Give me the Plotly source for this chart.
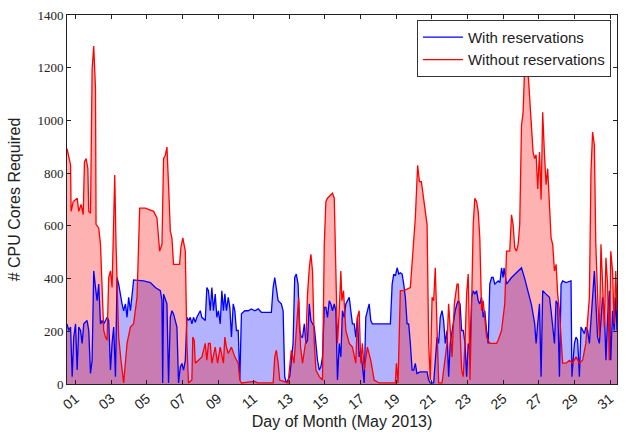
import plotly.graph_objects as go
import pandas as pd

# Day of month (fractional, 1.0 = May 1 00:00) and CPU cores
red_day = [0.52, 0.72, 0.75, 0.87, 1.09, 1.18, 1.31, 1.43, 1.50, 1.59,
           1.69, 1.74, 1.84, 1.93, 2.02, 2.12, 2.15, 2.30, 2.40, 2.49,
           2.58, 2.68, 2.77, 2.86, 2.96, 3.05, 3.14, 3.20, 3.27, 3.33,
           3.42, 3.55, 3.70, 3.89, 4.08, 4.26, 4.45, 4.60, 4.92, 5.20,
           5.38, 5.57, 5.72, 5.85, 5.94, 6.04, 6.13, 6.22, 6.32, 6.41,
           6.50, 6.84, 6.91, 7.02, 7.16, 7.25, 7.34, 7.53, 7.58, 7.66,
           7.72, 7.90, 8.09, 8.28, 8.37, 8.46, 8.56, 8.65, 8.84, 8.97,
           9.12, 9.30, 9.38, 9.47, 9.57, 9.75, 9.94, 10.13, 10.22, 10.31,
           11.04, 11.21, 12.09, 12.18, 12.27, 12.37, 12.46, 12.93, 13.02, 13.11,
           13.26, 13.39, 13.52, 13.63, 13.74, 13.93, 14.02, 14.12, 14.21, 14.30,
           14.40, 14.49, 14.68, 14.86, 14.96, 15.05, 15.14, 15.33, 15.42, 15.52,
           15.61, 15.70, 15.80, 15.89, 15.95, 16.04, 16.17, 16.36, 16.54, 16.73,
           16.82, 16.92, 17.01, 17.10, 17.20, 17.38, 17.57, 17.76, 18.04, 18.95,
           19.01, 19.10, 19.23, 19.42, 19.79, 19.89, 20.07, 20.20, 20.30, 20.41,
           20.73, 20.82, 20.91, 21.01, 21.10, 21.19, 21.29, 21.38, 21.57, 21.75,
           21.85, 21.94, 22.03, 22.13, 22.26, 22.41, 22.48, 22.58, 22.67, 22.76,
           22.86, 22.95, 23.04, 23.08, 23.14, 23.23, 23.32, 23.41, 23.51, 23.60,
           23.69, 23.79, 23.88, 24.07, 24.25, 24.63, 24.72, 24.91, 25.00, 25.09,
           25.19, 25.37, 25.47, 25.56, 25.65, 25.75, 25.84, 25.93, 26.03, 26.12,
           26.21, 26.31, 26.40, 26.49, 26.59, 26.68, 26.77, 26.85, 26.94, 27.04,
           27.13, 27.22, 27.32, 27.41, 27.50, 27.60, 27.69, 27.78, 27.88, 27.97,
           28.06, 28.16, 28.25, 28.34, 28.53, 28.72, 28.90, 29.09, 29.28, 29.46,
           29.64, 29.84, 29.93, 30.02, 30.12, 30.20, 30.30, 30.40, 30.49, 30.58,
           30.68, 30.77, 30.86, 30.96, 31.04, 31.14, 31.23, 31.32, 31.39]
red_val = [893, 832, 655, 692, 705, 655, 681, 643, 843, 855,
           818, 655, 648, 1194, 1282, 1119, 606, 592, 530, 342,
           203, 178, 166, 404, 429, 366, 681, 793, 530, 380,
           178, 90, 4, 154, 216, 229, 329, 667, 667, 660,
           655, 630, 504, 530, 855, 868, 899, 755, 580, 554,
           454, 454, 517, 554, 504, 153, 4, 15, 178, 166,
           79, 90, 103, 154, 90, 154, 154, 79, 140, 79,
           140, 79, 178, 140, 116, 140, 103, 79, 15, 4,
           10, 4, 4, 103, 128, 79, 15, 4, 79, 128,
           79, 216, 329, 140, 79, 166, 341, 441, 492, 429,
           154, 53, 28, 15, 530, 692, 705, 718, 724, 705,
           429, 154, 278, 429, 316, 354, 203, 154, 140, 79,
           253, 278, 79, 154, 53, 140, 90, 15, 4, 4,
           79, 4, 354, 354, 366, 454, 630, 830, 768, 768,
           605, 154, 15, 329, 316, 441, 154, 4, 4, 90,
           154, 304, 203, 103, 304, 379, 379, 216, 53, 28,
           154, 342, 417, 278, 15, 304, 606, 705, 692, 655,
           554, 278, 316, 178, 154, 154, 166, 203, 253, 304,
           504, 504, 642, 605, 517, 504, 529, 605, 981, 1031,
           1207, 1215, 1182, 1081, 1006, 880, 855, 870, 740, 880,
           700, 1031, 869, 756, 817, 655, 554, 530, 429, 454,
           342, 278, 154, 79, 79, 90, 79, 103, 79, 90,
           154, 329, 805, 956, 907, 530, 342, 178, 530, 342,
           216, 479, 379, 90, 504, 429, 228, 429, 278]

blue_day = [0.52, 0.62, 0.72, 0.81, 0.90, 1.00, 1.09, 1.18, 1.28, 1.37,
            1.46, 1.65, 1.74, 1.84, 1.93, 2.02, 2.12, 2.21, 2.30, 2.40,
            2.49, 2.58, 2.68, 2.77, 2.86, 2.96, 3.05, 3.14, 3.24, 3.33,
            3.42, 3.52, 3.61, 3.70, 3.80, 3.89, 3.98, 4.08, 4.17, 4.26,
            4.82, 5.20, 5.48, 5.76, 5.85, 5.89, 5.94, 6.04, 6.13, 6.22,
            6.32, 6.41, 6.50, 6.69, 6.78, 6.88, 6.97, 7.06, 7.16, 7.25,
            7.34, 7.44, 7.53, 7.62, 7.72, 7.81, 8.00, 8.09, 8.28, 8.37,
            8.46, 8.56, 8.65, 8.74, 8.84, 8.93, 9.02, 9.12, 9.21, 9.30,
            9.38, 9.47, 9.57, 9.66, 9.75, 9.85, 9.94, 10.03, 10.13, 10.22,
            10.31, 10.50, 10.69, 10.87, 11.06, 11.25, 11.43, 11.99, 12.09, 12.18,
            12.27, 12.37, 12.55, 12.65, 12.74, 12.83, 13.02, 13.21, 13.30, 13.39,
            13.49, 13.58, 13.67, 13.74, 13.84, 13.93, 14.02, 14.12, 14.21, 14.30,
            14.40, 14.49, 14.58, 14.68, 14.77, 14.86, 14.96, 15.05, 15.14, 15.24,
            15.33, 15.42, 15.52, 15.61, 15.70, 15.80, 15.89, 15.98, 16.08, 16.17,
            16.26, 16.36, 16.45, 16.54, 16.64, 16.73, 16.82, 16.92, 17.01, 17.10,
            17.20, 17.29, 17.38, 17.48, 17.57, 17.66, 18.67, 18.77, 18.86, 18.95,
            19.05, 19.14, 19.23, 19.33, 19.42, 19.51, 19.61, 19.70, 19.79, 19.89,
            19.98, 20.07, 20.16, 20.35, 20.73, 20.82, 20.91, 21.10, 21.29, 21.38,
            21.47, 21.57, 21.66, 21.75, 21.85, 21.94, 22.03, 22.13, 22.22, 22.31,
            22.41, 22.48, 22.58, 22.67, 22.76, 22.86, 22.95, 23.04, 23.14, 23.23,
            23.32, 23.41, 23.51, 23.60, 23.69, 23.79, 23.88, 23.97, 24.07, 24.16,
            24.25, 24.35, 24.44, 24.53, 24.72, 24.82, 24.91, 25.00, 25.05, 25.19,
            25.47, 25.75, 26.03, 26.21, 26.40, 26.59, 26.77, 26.85, 26.94, 27.04,
            27.13, 27.22, 27.41, 27.60, 27.69, 27.78, 27.88, 27.97, 28.06, 28.16,
            28.25, 28.34, 28.53, 28.81, 28.86, 29.00, 29.09, 29.18, 29.28, 29.37,
            29.46, 29.56, 29.64, 29.74, 29.84, 29.93, 30.02, 30.12, 30.20, 30.30,
            30.40, 30.49, 30.58, 30.68, 30.77, 30.86, 30.96, 31.04, 31.14, 31.23,
            31.32, 31.39]
blue_val = [228, 203, 216, 28, 178, 228, 53, 216, 203, 154,
            228, 241, 203, 40, 90, 429, 366, 316, 379, 228,
            241, 228, 241, 253, 241, 53, 154, 216, 28, 404,
            379, 329, 304, 278, 304, 253, 329, 278, 329, 395,
            391, 385, 366, 354, 316, 4, 341, 316, 304, 4,
            253, 278, 266, 216, 4, 65, 78, 53, 90, 253,
            241, 253, 228, 253, 234, 253, 278, 253, 241, 366,
            354, 278, 366, 278, 341, 253, 278, 228, 354, 278,
            342, 278, 329, 291, 178, 304, 278, 203, 203, 15,
            266, 278, 278, 285, 278, 285, 272, 272, 366, 404,
            366, 316, 304, 278, 28, 4, 28, 154, 404, 417,
            379, 203, 178, 178, 228, 154, 166, 304, 241, 228,
            216, 154, 90, 53, 65, 103, 291, 291, 253, 316,
            304, 278, 304, 278, 15, 154, 103, 278, 253, 304,
            316, 329, 278, 228, 228, 178, 253, 103, 128, 78,
            4, 253, 278, 304, 241, 228, 228, 379, 417, 410,
            441, 417, 422, 417, 379, 329, 228, 228, 154, 53,
            53, 78, 40, 46, 46, 15, 4, 4, 178, 154,
            253, 278, 241, 154, 203, 28, 154, 203, 228, 278,
            304, 316, 304, 203, 203, 154, 28, 154, 128, 329,
            354, 341, 354, 316, 304, 329, 253, 278, 203, 154,
            379, 404, 404, 379, 391, 385, 441, 404, 441, 379,
            404, 422, 441, 400, 354, 300, 228, 154, 228, 304,
            28, 354, 341, 329, 278, 203, 154, 316, 304, 28,
            379, 391, 385, 391, 28, 154, 178, 166, 28, 216,
            203, 191, 216, 203, 154, 228, 329, 429, 304, 178,
            154, 253, 329, 278, 90, 253, 354, 90, 278, 203,
            329, 203]

y_ticks = [0, 200, 400, 600, 800, 1000, 1200, 1400]
base = pd.Timestamp("2013-05-01")


def to_time(days):
    return [base + pd.Timedelta(days=d - 1) for d in days]


blue_x = to_time(blue_day)
red_x = to_time(red_day)

fig = go.Figure()
# fills first
fig.add_trace(go.Scatter(
    x=blue_x, y=blue_val, mode="lines", showlegend=False, hoverinfo="skip",
    line=dict(color="rgba(0,0,255,0)", width=0), fill="tozeroy",
    fillcolor="rgba(0,0,255,0.3)"))
fig.add_trace(go.Scatter(
    x=red_x, y=red_val, mode="lines", showlegend=False, hoverinfo="skip",
    line=dict(color="rgba(255,0,0,0)", width=0), fill="tozeroy",
    fillcolor="rgba(255,0,0,0.3)"))
# lines on top
fig.add_trace(go.Scatter(
    x=blue_x, y=blue_val, mode="lines", name="With reservations",
    line=dict(color="#0000ff", width=1.3)))
fig.add_trace(go.Scatter(
    x=red_x, y=red_val, mode="lines", name="Without reservations",
    line=dict(color="#ff0000", width=1.3)))

sans = "Liberation Sans, Arial, sans-serif"
fig.update_layout(
    width=626, height=448,
    margin=dict(l=67, r=8, t=12, b=64),
    paper_bgcolor="white", plot_bgcolor="white",
    font=dict(family=sans, size=14, color="#222"),
    showlegend=True,
    legend=dict(x=0.989, y=0.987, xanchor="right", yanchor="top",
                bgcolor="white", bordercolor="#333", borderwidth=1,
                font=dict(family=sans, size=15, color="#222"),
                tracegroupgap=0, itemwidth=40),
    xaxis=dict(
        type="date",
        range=[blue_x[0], red_x[-1]],
        tick0="2013-05-01", dtick=2 * 86400000, tickformat="%d",
        tickangle=-40, ticks="inside", ticklen=4, tickcolor="#222",
        showline=True, linecolor="#222", linewidth=1, mirror="ticks",
        showgrid=False, zeroline=False,
        tickfont=dict(family=sans, size=14, color="#222"),
        title=dict(text="Day of Month (May 2013)", standoff=4,
                   font=dict(family=sans, size=16, color="#222")),
    ),
    yaxis=dict(
        range=[0, 1400], tickvals=y_ticks,
        ticks="inside", ticklen=4, tickcolor="#222",
        showline=True, linecolor="#222", linewidth=1, mirror="ticks",
        showgrid=False, zeroline=False,
        tickfont=dict(family="Liberation Serif, Times New Roman, serif",
                      size=13, color="#222"),
        title=dict(text="# CPU Cores Required", standoff=12,
                   font=dict(family=sans, size=16, color="#222")),
    ),
)

fig.write_html("out.html")
